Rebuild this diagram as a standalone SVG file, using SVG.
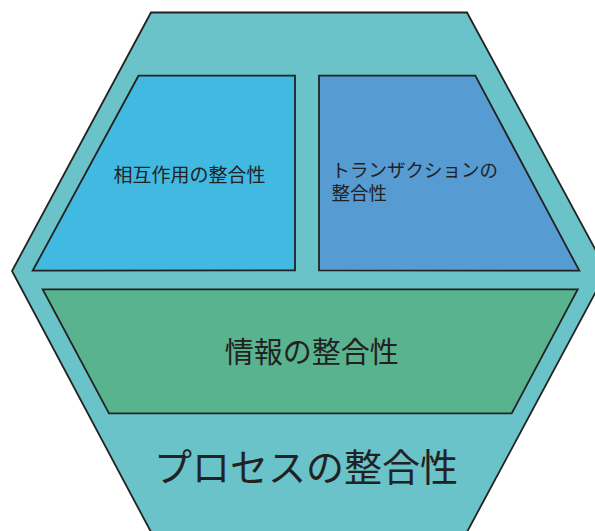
<svg xmlns="http://www.w3.org/2000/svg" width="595" height="531" viewBox="0 0 595 531">
<style>
.s{stroke:#222;stroke-width:1.8;stroke-linejoin:miter}
.t{font-family:"Noto Sans CJK JP","Noto Sans",sans-serif;fill:#222}
</style>
<rect width="595" height="531" fill="#fff"/>
<g id="process">
<polygon class="s" fill="#69C3C8" points="151,12.5 467,12.5 607,271 467,532 151,532 12,271"/>
<text class="t" x="306" y="481" font-size="38" text-anchor="middle">プロセスの整合性</text>
</g>
<g id="interaction">
<polygon class="s" fill="#41B9E0" points="138.5,75.7 295,75.7 295,270.3 32.7,270.7"/>
<text class="t" x="189.5" y="182" font-size="19" text-anchor="middle">相互作用の整合性</text>
</g>
<g id="transaction">
<polygon class="s" fill="#579BD3" points="319,75.7 475.3,75.7 579.3,270.7 319,270.3"/>
<text class="t" x="331.5" y="176.5" font-size="18.5">トランザクションの</text>
<text class="t" x="331.5" y="199.5" font-size="18.5">整合性</text>
</g>
<g id="information">
<polygon class="s" fill="#5AB38F" points="42.7,289.3 577.7,289.3 511.7,413.3 109,413.3"/>
<text class="t" x="311.7" y="363" font-size="29" text-anchor="middle">情報の整合性</text>
</g>
<g id="connectors"/>
</svg>
